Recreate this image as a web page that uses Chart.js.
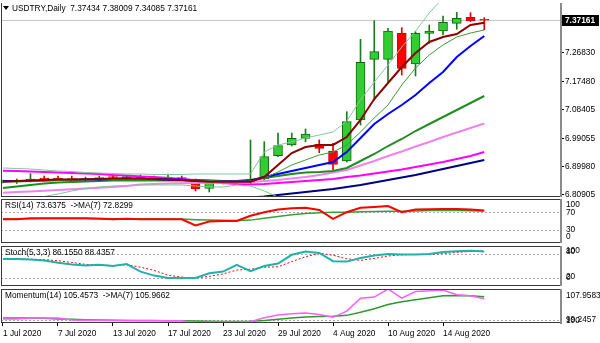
<!DOCTYPE html>
<html>
<head>
<meta charset="utf-8">
<script src="https://cdn.jsdelivr.net/npm/chart.js@4.4.0/dist/chart.umd.min.js"></script>
<style>
  html, body { margin: 0; padding: 0; background: #fff; }
  #wrap { position: relative; width: 600px; height: 343px; overflow: hidden; }
  canvas { position: absolute; left: 0; }
</style>
</head>
<body>
<div id="wrap">
  <canvas id="main" width="600" height="197" style="top:0px"></canvas>
  <canvas id="rsi" width="600" height="45" style="top:198px"></canvas>
  <canvas id="stoch" width="600" height="42" style="top:244px"></canvas>
  <canvas id="mom" width="600" height="55" style="top:288px"></canvas>
</div>
<script>
// USDTRY daily, 1 Jul - 19 Aug 2020
const dates = ['2020-07-01','2020-07-02','2020-07-03','2020-07-06','2020-07-07','2020-07-08','2020-07-09','2020-07-10',
  '2020-07-13','2020-07-14','2020-07-15','2020-07-16','2020-07-17','2020-07-20','2020-07-21','2020-07-22','2020-07-23',
  '2020-07-24','2020-07-27','2020-07-28','2020-07-29','2020-07-30','2020-07-31','2020-08-03','2020-08-04','2020-08-05',
  '2020-08-06','2020-08-07','2020-08-10','2020-08-11','2020-08-12','2020-08-13','2020-08-14','2020-08-17','2020-08-18','2020-08-19'];

const open  = [6.8525,6.8525,6.8541,6.8638,6.8638,6.8622,6.8606,6.8622,6.8686,6.8638,6.8702,6.8638,6.8654,6.8654,6.8574,6.8300,6.8509,6.8477,
  6.8499,6.8606,6.9356,6.9701,6.9916,6.9723,6.9507,6.9185,7.0506,7.2460,7.2460,7.3297,7.2309,7.3297,7.3371,7.3619,7.3812,7.37434];
const high  = [6.8574,6.8606,6.8783,6.8702,6.8702,6.8702,6.8670,6.8702,6.8735,6.8702,6.8735,6.8702,6.8767,6.8702,6.8606,6.8541,6.8541,6.8541,
  6.9862,6.9807,7.0087,7.0087,7.0216,6.9862,6.9755,7.0773,7.3104,7.3703,7.3458,7.3478,7.3349,7.3565,7.3854,7.3973,7.3961,7.38009];
const low   = [6.8477,6.8461,6.8509,6.8541,6.8574,6.8541,6.8541,6.8574,6.8606,6.8606,6.8557,6.8574,6.8590,6.8574,6.8219,6.8187,6.8445,6.8429,
  6.8461,6.8557,6.9324,6.9668,6.9807,6.9453,6.8896,6.9153,7.0345,7.1150,7.1739,7.1955,7.1922,7.2975,7.3243,7.3426,7.3671,7.34085];
const close = [6.8541,6.8530,6.8606,6.8606,6.8612,6.8590,6.8622,6.8654,6.8654,6.8686,6.8574,6.8654,6.8670,6.8638,6.8284,6.8509,6.8477,6.8493,
  6.8606,6.9324,6.9678,6.9916,7.0055,6.9594,6.9079,7.0451,7.2363,7.2705,7.3371,7.2170,7.3297,7.3371,7.3651,7.3780,7.3703,7.37161];

// moving averages / bands
const maFast = [6.8519,6.8541,6.8551,6.8574,6.8590,6.8590,6.8596,6.8606,6.8622,6.8628,6.8622,6.8606,6.8590,6.8574,6.8541,6.8519,6.8519,6.8519,
  6.8519,6.8670,6.9057,6.9443,6.9636,6.9701,6.9701,6.9958,7.0506,7.1182,7.1697,7.2212,7.2663,7.3017,7.3178,7.3275,7.3565,7.3639];
const maMid = [6.8509,6.8509,6.8525,6.8541,6.8557,6.8557,6.8574,6.8590,6.8590,6.8590,6.8590,6.8590,6.8590,6.8590,6.8574,6.8557,6.8541,6.8541,
  6.8541,6.8638,6.8831,6.9057,6.9218,6.9379,6.9475,6.9701,7.0119,7.0570,7.0989,7.1633,7.2180,7.2599,7.2921,7.3178,7.3307,7.3404];
const maBlue = [6.8541,6.8541,6.8557,6.8557,6.8574,6.8574,6.8590,6.8590,6.8606,6.8606,6.8606,6.8606,6.8590,6.8590,6.8574,6.8557,6.8541,6.8541,
  6.8557,6.8670,6.8767,6.8863,6.8960,6.9057,6.9153,6.9475,6.9926,7.0377,7.0699,7.0989,7.1311,7.1697,7.2051,7.2534,7.2888,7.3210];
const maGreen = [6.8316,6.8364,6.8413,6.8461,6.8493,6.8509,6.8525,6.8541,6.8557,6.8557,6.8557,6.8557,6.8557,6.8557,6.8541,6.8541,6.8541,6.8541,
  6.8574,6.8638,6.8702,6.8767,6.8815,6.8831,6.8863,6.8960,6.9185,6.9411,6.9668,6.9894,7.0151,7.0377,7.0602,7.0828,7.1053,7.1278];
const maViolet = [6.8165,6.8187,6.8203,6.8226,6.8252,6.8274,6.8300,6.8322,6.8348,6.8380,6.8429,6.8445,6.8461,6.8470,6.8477,6.8483,6.8493,6.8503,
  6.8509,6.8541,6.8574,6.8622,6.8670,6.8735,6.8815,6.8896,6.9040,6.9185,6.9346,6.9491,6.9652,6.9797,6.9958,7.0103,7.0248,7.0393];
const maMagenta = [6.8873,6.8863,6.8847,6.8831,6.8815,6.8799,6.8783,6.8767,6.8735,6.8718,6.8686,6.8670,6.8638,6.8606,6.8557,6.8509,6.8477,6.8445,
  6.8429,6.8445,6.8477,6.8509,6.8541,6.8574,6.8606,6.8670,6.8718,6.8783,6.8847,6.8912,6.8992,6.9073,6.9153,6.9250,6.9346,6.9475];
const maNavy = [null,null,null,null,null,null,null,null,null,null,null,null,null,null,null,null,null,6.7978,
  6.8010,6.8042,6.8091,6.8139,6.8187,6.8235,6.8284,6.8348,6.8413,6.8493,6.8574,6.8654,6.8735,6.8831,6.8928,6.9024,6.9121,6.9218];
const bandUp = [6.8960,6.8944,6.8928,6.8896,6.8863,6.8847,6.8815,6.8799,6.8783,6.8767,6.8767,6.8751,6.8751,6.8751,6.8767,6.8767,6.8767,6.8767,
  6.8767,6.9475,6.9701,6.9797,6.9926,7.0023,7.0119,7.0473,7.1150,7.1729,7.2277,7.2856,7.3371,7.3951,7.4434,7.4853,7.5175,7.5336];
const bandLow = [6.7930,6.7961,6.7994,6.8042,6.8123,6.8219,6.8300,6.8348,6.8380,6.8396,6.8413,6.8413,6.8413,6.8413,6.8380,6.8348,6.8348,6.8413,
  6.8380,6.8219,6.8026,6.7897,6.7768];

// indicator windows
const rsi   = [54,54,56,56,56,56,56,55,54,55,54,54,54,54,40,49,50,50,62,70,76,79,80,75,55,70,80,82,84,70,76,76.5,77,77,76,73.6375];
const rsiMa = [55,55,55,55.5,55.5,55.5,55.5,55.5,55,55,55,55,54.5,54.5,53,52,51.5,51,52,56,60,64,67,69,70,70,71,71.5,72,72,73,74,74.5,74,73.5,72.8299];
const stochK = [67.5,67.5,66,64,58,54,51,53,50,55,36,26,20,20,20,32,36,53,37,50,56,78,86,82.5,62,61,70,76,80,79,78.5,80,85,87,88,86.155];
const stochD = [68,67.5,67,66,63,59,54,53,51,53,47,39,27,22,20,24,30,40,42,47,48,61,73,82,77,68,64,69,75,78,79,79,81,84,86.5,88.4357];
const mom   = [100.3,100.3,100.5,100.55,100.5,100.0,99.95,99.95,99.9,99.9,99.85,99.85,99.85,99.85,99.25,99.5,99.5,99.5,
  99.6,100.6,101.3,101.6,101.8,101.4,100.7,102.3,105.6,105.9,107.96,105.6,107.3,107.5,107.7,106.5,106.2,105.4573];
const momMa = [100.55,100.55,100.5,100.45,100.3,100.2,100.1,100.0,99.95,99.9,99.9,99.9,99.85,99.8,99.75,99.7,99.65,99.65,
  99.7,99.9,100.2,100.5,100.8,100.9,101.0,101.2,102.0,102.9,104.0,104.7,105.2,105.7,106.2,106.3,106.2,105.9662];

const priceTicks = [6.80905, 6.89980, 6.99055, 7.08405, 7.17480, 7.26830];
const axisDates = ['2020-07-01','2020-07-07','2020-07-13','2020-07-17','2020-07-23','2020-07-29','2020-08-04','2020-08-10','2020-08-14'];
const axisLabels = ['1 Jul 2020','7 Jul 2020','13 Jul 2020','17 Jul 2020','23 Jul 2020','29 Jul 2020','4 Aug 2020','10 Aug 2020','14 Aug 2020'];

const FONT = "'Liberation Sans', Arial, sans-serif";
Chart.defaults.font.family = FONT;
Chart.defaults.font.size = 8.3;
Chart.defaults.color = '#000';

const xMin = -0.145, xMax = 40.58;
const pts = arr => arr.map((v, i) => ({ x: i, y: v }));
const line = (arr, color, width, extra) => Object.assign({
  type: 'line', data: pts(arr), borderColor: color, borderWidth: width,
  pointRadius: 0, tension: 0, fill: false, order: 0
}, extra || {});

function frame(ctx, a, top) {
  ctx.save();
  ctx.strokeStyle = '#3a3a3a';
  ctx.lineWidth = 1;
  ctx.beginPath();
  if (top) { ctx.moveTo(a.left, a.top + 0.5); ctx.lineTo(a.right, a.top + 0.5); }
  ctx.moveTo(a.left + 0.5, a.top); ctx.lineTo(a.left + 0.5, a.bottom);
  ctx.moveTo(a.left, a.bottom - 0.5); ctx.lineTo(a.right, a.bottom - 0.5);
  ctx.stroke();
  ctx.strokeStyle = '#8a8a8a';
  ctx.lineWidth = 2;
  ctx.beginPath();
  ctx.moveTo(a.right, a.top); ctx.lineTo(a.right, a.bottom + 1);
  ctx.stroke();
  ctx.restore();
}

function panelPlugin(legend, levels, labels) {
  return {
    id: 'panel',
    beforeDatasetsDraw(chart) {
      const { ctx, chartArea: a, scales: { y } } = chart;
      ctx.save();
      ctx.strokeStyle = '#a8a8a8';
      ctx.lineWidth = 1;
      ctx.setLineDash([2, 2]);
      levels.forEach(v => {
        const py = Math.round(y.getPixelForValue(v)) + 0.5;
        ctx.beginPath(); ctx.moveTo(a.left, py); ctx.lineTo(a.right, py); ctx.stroke();
      });
      ctx.restore();
    },
    afterDraw(chart) {
      const { ctx, chartArea: a, scales: { y } } = chart;
      frame(ctx, a, true);
      ctx.save();
      ctx.font = '8.3px ' + FONT;
      ctx.fillStyle = '#000';
      ctx.textBaseline = 'middle';
      ctx.textAlign = 'left';
      ctx.fillText(legend, a.left + 4, a.top + 7);
      labels.forEach(l => ctx.fillText(l.text, 566, y.getPixelForValue(l.value) + l.dy));
      ctx.restore();
    }
  };
}

const up = close.map((c, i) => c >= open[i]);

// ---- main price window
const mainOverlay = {
  id: 'mainOverlay',
  beforeDatasetsDraw(chart) {
    const { ctx, chartArea: a, scales: { y } } = chart;
    const py = Math.round(y.getPixelForValue(close[close.length - 1])) + 0.5;
    ctx.save();
    ctx.strokeStyle = '#c8c8c8';
    ctx.lineWidth = 1;
    ctx.beginPath(); ctx.moveTo(a.left, py); ctx.lineTo(a.right, py); ctx.stroke();
    ctx.restore();
  },
  afterDraw(chart) {
    const { ctx, chartArea: a, scales: { y } } = chart;
    frame(ctx, a, false);
    ctx.save();
    // title
    ctx.fillStyle = '#000';
    ctx.beginPath(); ctx.moveTo(3, 6); ctx.lineTo(9, 6); ctx.lineTo(6, 10); ctx.closePath(); ctx.fill();
    ctx.font = '8.3px ' + FONT;
    ctx.textBaseline = 'middle';
    ctx.fillText('USDTRY,Daily  ' + [open, high, low, close].map(s => s[s.length - 1].toFixed(5)).join(' '), 12, 8.5);
    // last price box
    const last = close[close.length - 1];
    const py = y.getPixelForValue(last);
    ctx.fillRect(562, Math.round(py) - 5, 37, 11);
    ctx.fillStyle = '#fff';
    ctx.font = 'bold 8.3px ' + FONT;
    ctx.fillText(last.toFixed(5), 565, Math.round(py) + 0.5);
    ctx.restore();
  }
};

new Chart(document.getElementById('main'), {
  type: 'line',
  data: {
    datasets: [
      line(maFast, '#8b0000', 2),
      line(maMid, '#3d9a3d', 1),
      line(bandUp, '#7fc99a', 1),
      line(bandLow, '#7fc99a', 1),
      line(maBlue, '#0000ff', 2),
      line(maGreen, '#228b22', 2),
      line(maViolet, '#ee82ee', 2),
      line(maMagenta, '#ff00ff', 2),
      line(maNavy, '#000080', 2),
      {
        type: 'bar', data: open.map((o, i) => ({ x: i, y: [o, close[i]] })),
        backgroundColor: up.map(u => u ? '#32cd32' : '#ff0000'),
        borderColor: up.map(u => u ? '#0f6a0f' : '#d00000'),
        borderWidth: 1, borderSkipped: false, barThickness: 9, grouped: false, order: 1
      },
      {
        type: 'bar', data: high.map((h, i) => ({ x: i, y: [low[i], h] })),
        backgroundColor: up.map(u => u ? '#1f7a1f' : '#e00000'),
        barThickness: 1, grouped: false, order: 2
      }
    ]
  },
  options: {
    responsive: false, animation: false, devicePixelRatio: 1,
    layout: { padding: { left: 1, top: 3, right: 0, bottom: 0 } },
    plugins: { legend: { display: false }, tooltip: { enabled: false } },
    scales: {
      x: { type: 'linear', min: xMin, max: xMax, offset: false, display: false },
      y: {
        position: 'right', min: 6.80261, max: 7.42729,
        afterBuildTicks: s => { s.ticks = priceTicks.map(v => ({ value: v })); },
        afterFit: s => { s.width = 39; s.paddingTop = 0; s.paddingBottom = 0; },
        ticks: { callback: v => Number(v).toFixed(5), padding: 1, autoSkip: false, color: '#000' },
        grid: { drawOnChartArea: false, tickLength: 3, color: '#000' },
        border: { display: false }
      }
    }
  },
  plugins: [mainOverlay]
});

// ---- indicator windows
function subChart(id, datasets, yMin, yMax, padTop, plugin, withAxis) {
  return new Chart(document.getElementById(id), {
    type: 'line',
    data: { datasets },
    options: {
      responsive: false, animation: false, devicePixelRatio: 1,
      layout: { padding: { left: 1, top: padTop, right: 39, bottom: 0 } },
      plugins: { legend: { display: false }, tooltip: { enabled: false } },
      scales: {
        x: withAxis ? {
          type: 'linear', min: xMin, max: xMax, offset: false,
          afterBuildTicks: s => { s.ticks = axisDates.map(d => ({ value: dates.indexOf(d) })); },
          afterFit: s => { s.height = 20; s.paddingLeft = 0; s.paddingRight = 0; },
          ticks: { callback: (v, i) => axisLabels[i], align: 'start', maxRotation: 0, autoSkip: false, padding: 3, color: '#000' },
          grid: { drawOnChartArea: false, tickLength: 3, color: '#000' },
          border: { display: false }
        } : { type: 'linear', min: xMin, max: xMax, offset: false, display: false },
        y: { min: yMin, max: yMax, display: false }
      }
    },
    plugins: [plugin]
  });
}

subChart('rsi', [
  line(rsi, '#ff0000', 2),
  line(rsiMa, '#36a336', 1.5)
], 0, 100, 1, panelPlugin('RSI(14) 73.6375  ->MA(7) 72.8299', [70, 30], [
  { text: '100', value: 100, dy: 5.5 }, { text: '70', value: 70, dy: 0.5 },
  { text: '30', value: 30, dy: 0 }, { text: '0', value: 0, dy: -6 }
]), false);

subChart('stoch', [
  line(stochK, '#20b2aa', 2),
  line(stochD, '#ff0000', 1, { borderDash: [2, 2] })
], 0, 100, 2, panelPlugin('Stoch(5,3,3) 86.1550 88.4357', [80, 20], [
  { text: '100', value: 100, dy: 4.5 }, { text: '80', value: 80, dy: -2 },
  { text: '20', value: 20, dy: -1 }, { text: '0', value: 0, dy: -8.5 }
]), false);

subChart('mom', [
  line(mom, '#ff5cff', 1.5),
  line(momMa, '#2e9a2e', 1.5)
], 99.2457, 107.9583, 1, panelPlugin('Momentum(14) 105.4573  ->MA(7) 105.9662', [100], [
  { text: '107.9583', value: 107.9583, dy: 7 }, { text: '99.2457', value: 99.2457, dy: -3 },
  { text: '100', value: 100, dy: 1 }
]), true);
</script>
</body>
</html>
